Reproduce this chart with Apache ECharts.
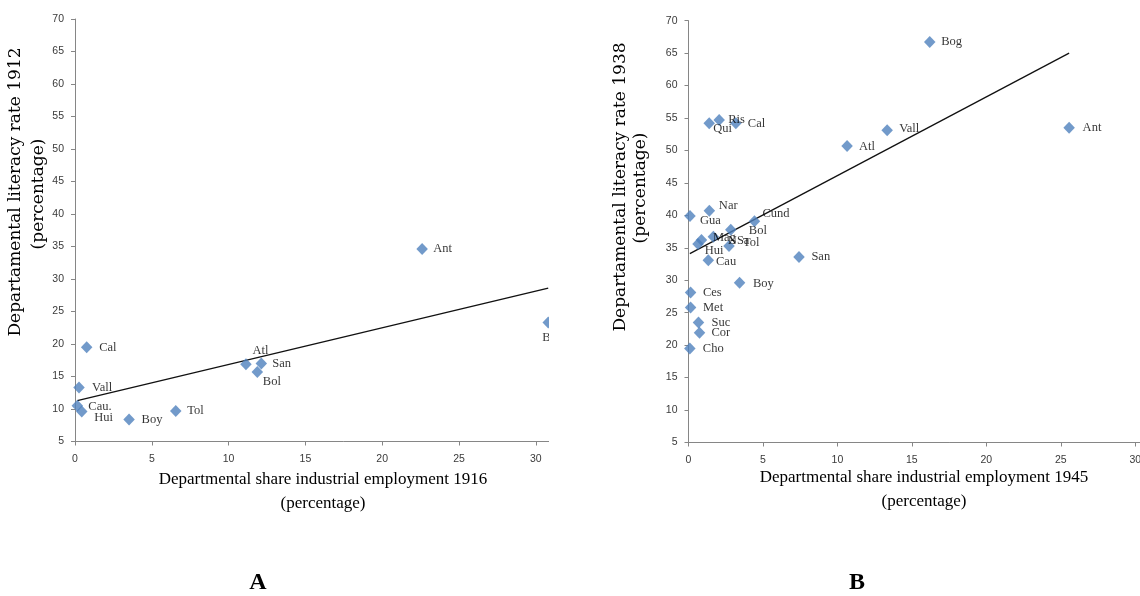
<!DOCTYPE html>
<html><head><meta charset="utf-8">
<script src="https://cdn.jsdelivr.net/npm/echarts@6/dist/echarts.min.js"></script>
<style>
html,body{margin:0;padding:0;background:#fff;width:1140px;height:596px;overflow:hidden;}
#chartB{position:absolute;left:0;top:0;width:1220px;height:596px;}
#wrapA{position:absolute;left:0;top:0;width:549px;height:596px;overflow:hidden;}
#chartA{width:640px;height:596px;}
</style></head><body>
<div id="chartB"></div>
<div id="wrapA"><div id="chartA"></div></div>
<script>
// ---------- Data: panel A (1912 / 1916) ----------
const namesA = ['Ant','Bog','Atl','San','Bol','Cal','Vall','Cau.','Hui','Boy','Tol'];
const shareA = [22.6, 30.81, 11.13, 12.13, 11.87, 0.76, 0.26, 0.15, 0.44, 3.52, 6.56];
const literacyA = [34.6, 23.3, 16.9, 17.0, 15.7, 19.5, 13.3, 10.5, 9.6, 8.4, 9.7];
const trendAX = [0.15, 30.81];
const trendAY = [11.3, 28.6];

// ---------- Data: panel B (1938 / 1945) ----------
const namesB = ['Bog','Ant','Vall','Atl','Ris','Cal','Qui','Nar','Gua','Cund','Bol','Mag','NSa','Hui','Tol','Cau','San','Boy','Ces','Met','Suc','Cor','Cho'];
const shareB = [16.2, 25.56, 13.34, 10.65, 2.06, 3.18, 1.39, 1.40, 0.10, 4.43, 2.84, 0.87, 1.67, 0.64, 2.72, 1.33, 7.42, 3.43, 0.14, 0.14, 0.67, 0.74, 0.09];
const literacyB = [66.7, 53.5, 53.1, 50.7, 54.7, 54.2, 54.2, 40.7, 39.9, 39.1, 37.8, 36.2, 36.7, 35.6, 35.3, 33.1, 33.6, 29.6, 28.1, 25.8, 23.5, 21.9, 19.5];
const trendBX = [0.09, 25.56];
const trendBY = [34.1, 65.0];

// ---------- Axis ticks ----------
const xTickMin = 0, xTickMax = 35, xTickStep = 5;
const yTickMin = 5, yTickMax = 70, yTickStep = 5;

// ---------- Label placement (offset from marker centre, px) ----------
const labelOffA = {Ant:[11,0], Bog:[-6,15], Atl:[6.5,-13.5], San:[11,0.5], Bol:[5.5,10], Cal:[12.5,0], Vall:[13,0], 'Cau.':[11,0.5], Hui:[12.5,6.5], Boy:[12.5,0.5], Tol:[11.5,0]};
const labelOffB = {Bog:[11.5,0], Ant:[13.5,0], Vall:[12,-2], Atl:[12,1], Ris:[9,0], Cal:[12,0], Qui:[4,5.5], Nar:[9.5,-5], Gua:[10,5], Cund:[8,-7.5], Bol:[18,1.5], Mag:[11.5,-2.6], NSa:[14.5,4], Hui:[6.7,6.6], Tol:[14,-2.7], Cau:[7.7,1.7], San:[12.4,0], Boy:[13.4,0.5], Ces:[12.4,0], Met:[12.4,0], Suc:[13,0], Cor:[12,0], Cho:[13,0]};

const SYM_W = 11.5, SYM_H = 12;
const BLUE = '#4F81BD';
const AXIS = '#868686';
const serif = "'Liberation Serif','Times New Roman',serif";

function axisCommon(isX){
  return {
    type:'value', min: isX ? xTickMin : yTickMin, max: isX ? xTickMax : yTickMax,
    interval: isX ? xTickStep : yTickStep,
    axisLine:{show:true, onZero:false, lineStyle:{color:AXIS, width:1}},
    axisTick:{show:true, inside:false, length:4, lineStyle:{color:AXIS}},
    axisLabel:{color:'#3a3a3a', fontSize:10.5, fontFamily:"'Liberation Sans',Arial,sans-serif", margin: isX ? 12 : 11},
    splitLine:{show:false}
  };
}

function scatterData(names, xs, ys, offs){
  return names.map((n,i)=>{
    const o = offs[n] || [12,0];
    return {
      name:n, value:[xs[i], ys[i]],
      label:{show:true, formatter:n, position:[SYM_W/2 + o[0], SYM_H/2 + o[1]], align:'left', verticalAlign:'middle'}
    };
  });
}

function textEl(text, x, y, size, family, rot, weight){
  return {
    type:'text', x:x, y:y, rotation: rot || 0, silent:true,
    style:{text:text, fill:'#000', fontSize:size, fontFamily:family, fontWeight: weight || 'normal',
      textAlign:'center', textVerticalAlign:'middle', align:'center', verticalAlign:'middle'}
  };
}

function buildOption(grid, names, xs, ys, offs, tx, ty, graphics){
  return {
    animation:false,
    backgroundColor:'transparent',
    grid: grid,
    xAxis: axisCommon(true),
    yAxis: axisCommon(false),
    series:[
      {
        type:'line', data: tx.map((x,i)=>[x, ty[i]]), showSymbol:false, symbol:'none', silent:true,
        lineStyle:{color:'#111', width:1.3}, z:2
      },
      {
        type:'scatter', symbol:'diamond', symbolSize:[SYM_W, SYM_H], itemStyle:{color:BLUE},
        data: scatterData(names, xs, ys, offs),
        label:{show:true, color:'#000', fontSize:12.5, fontFamily:serif},
        z:3
      }
    ],
    graphic: graphics
  };
}

const ytFont = "'DejaVu Serif',serif";
const chartA = echarts.init(document.getElementById('chartA'), null, {renderer:'canvas'});
chartA.setOption(buildOption(
  {left:75, top:19, width:537.6, height:422.5, containLabel:false},
  namesA, shareA, literacyA, labelOffA, trendAX, trendAY,
  [
    textEl('Departamental literacy rate 1912', 16, 192, 17, ytFont, Math.PI/2),
    textEl('(percentage)', 39, 194, 17, ytFont, Math.PI/2),
    textEl('Departmental share industrial employment 1916', 323, 480, 17, serif),
    textEl('(percentage)', 323, 504, 17, serif),
    textEl('A', 258, 583, 24, serif, 0, 'bold')
  ]
));

const chartB = echarts.init(document.getElementById('chartB'), null, {renderer:'canvas'});
chartB.setOption(buildOption(
  {left:688.5, top:20.7, width:521.2, height:421.8, containLabel:false},
  namesB, shareB, literacyB, labelOffB, trendBX, trendBY,
  [
    textEl('Departamental literacy rate 1938', 621, 187, 17, ytFont, Math.PI/2),
    textEl('(percentage)', 641, 188, 17, ytFont, Math.PI/2),
    textEl('Departmental share industrial employment 1945', 924, 478, 17, serif),
    textEl('(percentage)', 924, 502, 17, serif),
    textEl('B', 857, 583, 24, serif, 0, 'bold')
  ]
));
</script>
</body></html>
